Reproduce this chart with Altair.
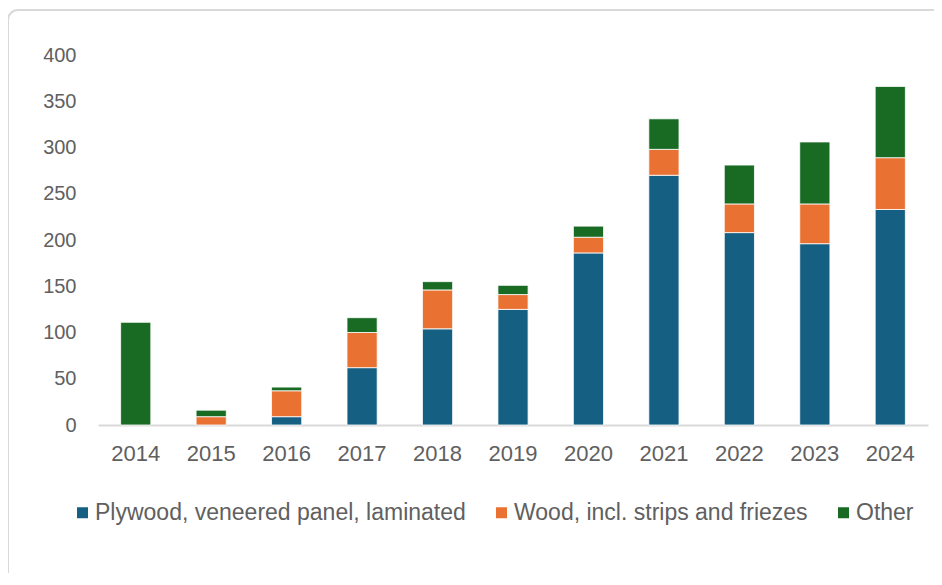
import altair as alt
import pandas as pd

years = [str(y) for y in range(2014, 2025)]
plywood = [0, 0, 9, 62, 104, 125, 186, 270, 208, 196, 233]
wood = [0, 9, 28, 38, 42, 16, 17, 28, 31, 43, 56]
other = [111, 7, 4, 16, 9, 10, 12, 33, 42, 67, 77]
series = ["Plywood, veneered panel, laminated", "Wood, incl. strips and friezes", "Other"]
colors = ["#156082", "#E97132", "#196B24"]
y_ticks = [0, 50, 100, 150, 200, 250, 300, 350, 400]

rows = []
for i, yr in enumerate(years):
    for k, (name, vals) in enumerate(zip(series, [plywood, wood, other])):
        rows.append({"year": yr, "series": name, "value": vals[i], "order": k})
df = pd.DataFrame(rows)

FONT = "Liberation Sans"
TXT = "#606060"

bars = alt.Chart(df).transform_filter("datum.value > 0").mark_bar(
    stroke="white", strokeWidth=0.8
).encode(
    x=alt.X("year:N", sort=years, title=None,
            scale=alt.Scale(paddingInner=0.6, paddingOuter=0.3),
            axis=alt.Axis(labelAngle=0, labelFont=FONT, labelFontSize=22, labelColor=TXT,
                          ticks=False, domainColor="#d9d9d9", domainWidth=2,
                          labelPadding=18, grid=False)),
    y=alt.Y("value:Q", stack="zero", title=None,
            scale=alt.Scale(domain=[0, 400]),
            axis=alt.Axis(values=y_ticks, labelFont=FONT, labelFontSize=20, labelColor=TXT,
                          ticks=False, domain=False, grid=False, labelPadding=22)),
    color=alt.Color("series:N", sort=series,
                    scale=alt.Scale(domain=series, range=colors),
                    legend=alt.Legend(title=None, orient="none", legendX=-27, legendY=446,
                                      direction="horizontal", columns=3,
                                      symbolType="square", symbolSize=121, symbolStrokeWidth=0,
                                      labelFont=FONT, labelFontSize=23, labelColor=TXT,
                                      labelLimit=600, labelOffset=1, columnPadding=24)),
    order=alt.Order("order:Q", sort="ascending"),
)

border = alt.Chart(pd.DataFrame({"a": [0]})).mark_rect(
    fillOpacity=0, stroke="#d9d9d9", strokeWidth=2, cornerRadius=10
).encode(
    x=alt.value(-90), x2=alt.value(880), y=alt.value(-45), y2=alt.value(570)
)

chart = alt.layer(border, bars).properties(
    width=830, height=370,
    padding={"left": 90, "top": 47, "right": 6, "bottom": 148},
    autosize="none", background="white"
).configure_view(stroke=None)

chart.save("out.html", embed_options={"renderer": "svg", "actions": False})
